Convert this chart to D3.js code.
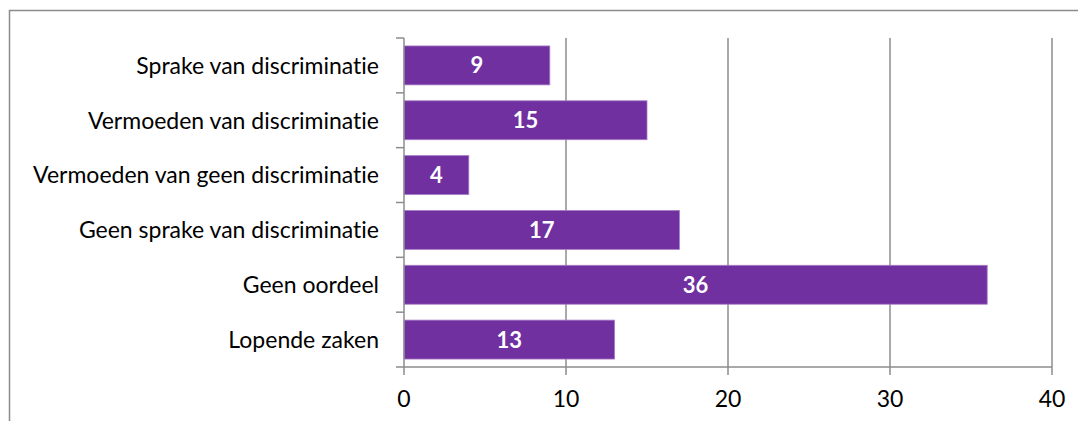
<!DOCTYPE html>
<html>
<head>
<meta charset="utf-8">
<script src="https://cdn.jsdelivr.net/npm/d3@7"></script>
<style>
  body { margin: 0; background: #fff; }
  svg { display: block; font-family: Lato, "Open Sans", sans-serif; font-variant-ligatures: none; }
</style>
</head>
<body>
<svg id="chart" width="1078" height="421"></svg>
<script>
var categories = ["Sprake van discriminatie", "Vermoeden van discriminatie", "Vermoeden van geen discriminatie",
  "Geen sprake van discriminatie", "Geen oordeel", "Lopende zaken"];
var values = [9, 15, 4, 17, 36, 13];
var xTicks = [0, 10, 20, 30, 40];

var width = 1078, height = 421;
var margin = { top: 38, right: 26, bottom: 54, left: 404 };

var svg = d3.select("#chart");

// chart frame
svg.append("rect")
  .attr("x", 9.5).attr("y", 10.5)
  .attr("width", width + 10).attr("height", height + 10)
  .attr("fill", "none").attr("stroke", "#8c8c8c").attr("stroke-width", 1.5);

var x = d3.scaleLinear().domain([0, 40]).range([margin.left, width - margin.right]);
var y = d3.scaleBand().domain(categories).range([margin.top, height - margin.bottom]).paddingInner(0.29).paddingOuter(0.145);

// gridlines
svg.append("g")
  .selectAll("line")
  .data(xTicks.slice(1))
  .join("line")
  .attr("x1", d => x(d)).attr("x2", d => x(d))
  .attr("y1", margin.top).attr("y2", height - margin.bottom)
  .attr("stroke", "#8c8c8c").attr("stroke-width", 1.5);

// bars
svg.append("g")
  .selectAll("rect")
  .data(values)
  .join("rect")
  .attr("x", x(0))
  .attr("y", (d, i) => y(categories[i]))
  .attr("width", d => x(d) - x(0))
  .attr("height", y.bandwidth())
  .attr("fill", "#7030a0")
  .attr("stroke", "#a77cc6").attr("stroke-width", 0.8);

// value labels
svg.append("g")
  .selectAll("text")
  .data(values)
  .join("text")
  .attr("x", d => (x(0) + x(d)) / 2)
  .attr("y", (d, i) => y(categories[i]) + y.bandwidth() / 2)
  .attr("dy", "0.36em")
  .attr("text-anchor", "middle")
  .attr("fill", "#fff")
  .attr("font-weight", "bold")
  .attr("font-size", 22)
  .text(d => d);

// y axis
var yAxis = svg.append("g");
var step = y.step();
var bounds = d3.range(categories.length + 1).map(i => margin.top + i * step);
yAxis.append("line")
  .attr("x1", x(0)).attr("x2", x(0))
  .attr("y1", margin.top).attr("y2", height - margin.bottom)
  .attr("stroke", "#8c8c8c").attr("stroke-width", 1.5);
yAxis.selectAll(".tk")
  .data(bounds)
  .join("line")
  .attr("class", "tk")
  .attr("x1", x(0) - 8).attr("x2", x(0))
  .attr("y1", d => d).attr("y2", d => d)
  .attr("stroke", "#8c8c8c").attr("stroke-width", 1.5);
yAxis.selectAll("text")
  .data(categories)
  .join("text")
  .attr("x", x(0) - 25)
  .attr("y", d => y(d) + y.bandwidth() / 2)
  .attr("dy", "0.36em")
  .attr("text-anchor", "end")
  .attr("font-size", 23)
  .attr("fill", "#000")
  .text(d => d);

// x axis
var xAxis = svg.append("g");
xAxis.append("line")
  .attr("x1", x(0)).attr("x2", x(40))
  .attr("y1", height - margin.bottom).attr("y2", height - margin.bottom)
  .attr("stroke", "#8c8c8c").attr("stroke-width", 1.5);
xAxis.selectAll(".tk")
  .data(xTicks)
  .join("line")
  .attr("class", "tk")
  .attr("x1", d => x(d)).attr("x2", d => x(d))
  .attr("y1", height - margin.bottom).attr("y2", height - margin.bottom + 8)
  .attr("stroke", "#8c8c8c").attr("stroke-width", 1.5);
xAxis.selectAll("text")
  .data(xTicks)
  .join("text")
  .attr("x", d => x(d))
  .attr("y", height - margin.bottom + 32)
  .attr("dy", "0.36em")
  .attr("text-anchor", "middle")
  .attr("font-size", 23)
  .attr("fill", "#000")
  .text(d => d);
</script>
</body>
</html>
